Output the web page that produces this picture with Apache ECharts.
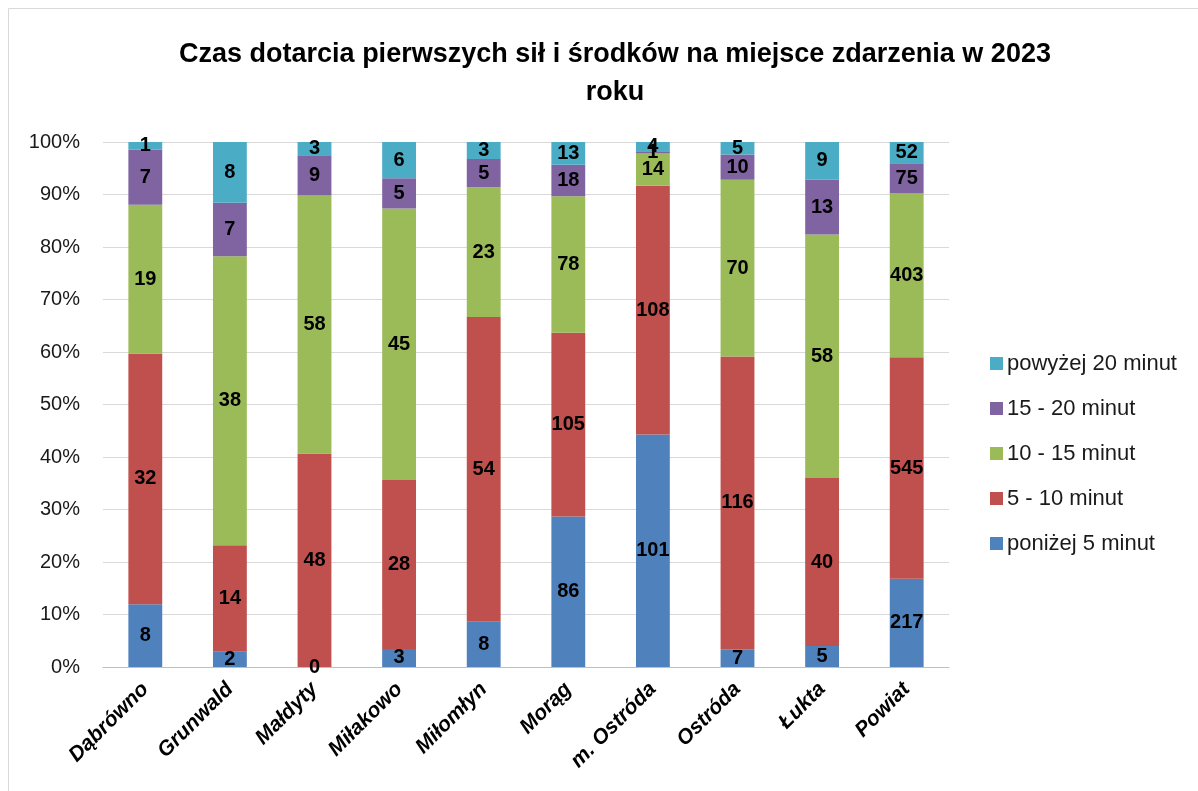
<!DOCTYPE html>
<html lang="pl">
<head>
    <meta charset="UTF-8">
    <title>Czas dotarcia</title>
    <script src="https://cdn.jsdelivr.net/npm/echarts@6/dist/echarts.min.js"></script>
    <style>
        html, body { margin: 0; padding: 0; background: #fff; }
    </style>
</head>
<body>
<div id="main" style="width:1198px;height:791px;"></div>
<script>
    // gminy
    let categories = ['Dąbrówno', 'Grunwald', 'Małdyty', 'Miłakowo', 'Miłomłyn', 'Morąg', 'm. Ostróda', 'Ostróda', 'Łukta', 'Powiat'];
    let seriesNames = ['poniżej 5 minut', '5 - 10 minut', '10 - 15 minut', '15 - 20 minut', 'powyżej 20 minut'];
    // liczba zdarzen
    let below5 = [8, 2, 0, 3, 8, 86, 101, 7, 5, 217];
    let min5to10 = [32, 14, 48, 28, 54, 105, 108, 116, 40, 545];
    let min10to15 = [19, 38, 58, 45, 23, 78, 14, 70, 58, 403];
    let min15to20 = [7, 7, 9, 5, 5, 18, 1, 10, 13, 75];
    let above20 = [1, 8, 3, 6, 3, 13, 4, 5, 9, 52];
    let colors = ['#4F81BD', '#C0504D', '#9BBB59', '#8064A2', '#4BACC6'];

    let raw = [below5, min5to10, min10to15, min15to20, above20];
    let totals = categories.map(function (c, i) {
        return raw.reduce(function (s, arr) { return s + arr[i]; }, 0);
    });

    let myChart = echarts.init(document.getElementById('main'));

    let series = raw.map(function (arr, k) {
        return {
            name: seriesNames[k],
            type: 'bar',
            stack: 'all',
            barWidth: '40%',
            itemStyle: { color: colors[k] },
            label: {
                show: true,
                position: 'inside',
                color: '#000',
                fontFamily: 'Liberation Sans',
                fontWeight: 'bold',
                fontSize: 20,
                formatter: function (p) { return arr[p.dataIndex]; }
            },
            data: arr.map(function (v, i) { return v / totals[i] * 100; })
        };
    });

    let option = {
        animation: false,
        backgroundColor: '#fff',
        title: {
            text: 'Czas dotarcia pierwszych sił i środków na miejsce zdarzenia w 2023\nroku',
            left: 610,
            textAlign: 'center',
            top: 31,
            textStyle: {
                fontFamily: 'Liberation Sans',
                fontWeight: 'bold',
                fontSize: 27,
                lineHeight: 38,
                color: '#000'
            }
        },
        graphic: [{
            type: 'rect',
            shape: { x: 8.5, y: 8.5, width: 1400, height: 1000 },
            style: { fill: 'none', stroke: '#d9d9d9', lineWidth: 1 },
            silent: true
        }],
        legend: {
            data: seriesNames.slice().reverse(),
            orient: 'vertical',
            left: 985,
            top: 347,
            itemWidth: 13,
            itemHeight: 13,
            itemGap: 22,
            icon: 'rect',
            textStyle: {
                fontFamily: 'Liberation Sans',
                fontSize: 22,
                lineHeight: 23,
                color: '#1a1a1a',
                padding: [0, 0, 0, -1]
            }
        },
        grid: {
            left: 103,
            right: 249,
            top: 142,
            bottom: 124,
            containLabel: false
        },
        xAxis: {
            type: 'category',
            data: categories,
            axisTick: { show: false },
            axisLine: { lineStyle: { color: '#bfbfbf', width: 1 } },
            axisLabel: {
                rotate: 45,
                interval: 0,
                margin: 19,
                fontFamily: 'Liberation Sans',
                fontWeight: 'bold',
                fontStyle: 'italic',
                fontSize: 21,
                color: '#000'
            }
        },
        yAxis: {
            type: 'value',
            min: 0,
            max: 100,
            interval: 10,
            axisLine: { show: false },
            axisTick: { show: false },
            splitLine: { lineStyle: { color: '#d9d9d9', width: 1 } },
            axisLabel: {
                formatter: '{value}%',
                margin: 23,
                fontFamily: 'Liberation Sans',
                fontSize: 20,
                color: '#1a1a1a'
            }
        },
        series: series
    };

    myChart.setOption(option);
</script>
</body>
</html>
